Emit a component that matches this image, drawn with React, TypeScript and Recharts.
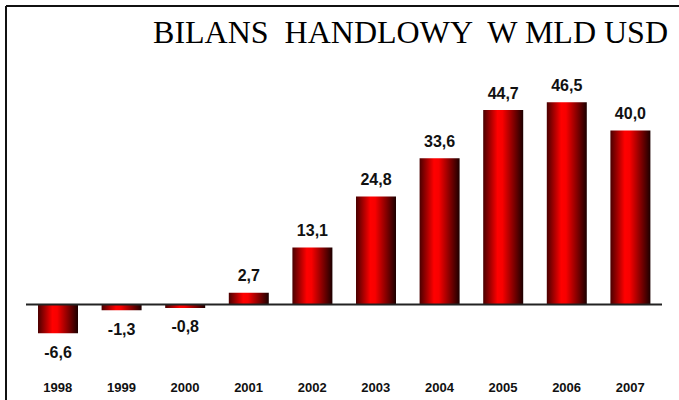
import React from "react";
import { BarChart, Bar, XAxis, YAxis, ReferenceLine, LabelList } from "recharts";

const years = ["1998", "1999", "2000", "2001", "2002", "2003", "2004", "2005", "2006", "2007"];
const balance = [-6.6, -1.3, -0.8, 2.7, 13.1, 24.8, 33.6, 44.7, 46.5, 40.0];
const title = "BILANS  HANDLOWY  W MLD USD";

const data = years.map((y, i) => ({ year: y, value: balance[i] }));

const fmt = (v: number) => v.toFixed(1).replace(".", ",");

const ValueLabel = (props: any) => {
  const { x, y, width, height, value } = props;
  const top = Math.min(y, y + height);
  const bottom = Math.max(y, y + height);
  const cx = x + width / 2;
  const ty = value < 0 ? bottom + 19 : top - 17;
  return (
    <text
      x={cx}
      y={ty}
      textAnchor="middle"
      dominantBaseline="central"
      fontFamily="'Liberation Sans', Arial, sans-serif"
      fontWeight="bold"
      fontSize={16}
      fill="#111"
    >
      {fmt(value)}
    </text>
  );
};

const YearTick = (props: any) => {
  const { x, y, payload } = props;
  return (
    <text
      x={x}
      y={y + 31}
      textAnchor="middle"
      dominantBaseline="central"
      fontFamily="'Liberation Sans', Arial, sans-serif"
      fontWeight="bold"
      fontSize={13}
      fill="#111"
    >
      {payload.value}
    </text>
  );
};

export default function App() {
  return (
    <div style={{ position: "absolute", left: 0, top: 0, width: 679, height: 400, background: "#fff" }}>
      <svg width={679} height={400} style={{ position: "absolute", left: 0, top: 0 }}>
        <line x1={6} y1={6} x2={679} y2={6} stroke="#111" strokeWidth={2} />
        <line x1={6} y1={6} x2={6} y2={400} stroke="#111" strokeWidth={2} />
        <text
          x={668}
          y={43}
          textAnchor="end"
          fontFamily="'Liberation Serif', 'Times New Roman', serif"
          fontSize={32}
          fill="#000"
          style={{ whiteSpace: "pre" }}
        >
          {title}
        </text>
      </svg>
      <div style={{ position: "absolute", left: 0, top: 0 }}>
        <BarChart
          width={679}
          height={400}
          data={data}
          margin={{ top: 87, right: 17, left: 26, bottom: 0 }}
        >
          <defs>
            <linearGradient id="barGrad" x1="0" y1="0" x2="1" y2="0">
              <stop offset="0%" stopColor="#4a0000" />
              <stop offset="36%" stopColor="#ff0000" />
              <stop offset="48%" stopColor="#f80000" />
              <stop offset="100%" stopColor="#1c0000" />
            </linearGradient>
          </defs>
          <XAxis
            dataKey="year"
            height={52}
            axisLine={false}
            tickLine={false}
            interval={0}
            tick={<YearTick />}
          />
          <YAxis hide domain={[-10, 50]} />
          <Bar dataKey="value" fill="url(#barGrad)" barSize={40} isAnimationActive={false}>
            <LabelList dataKey="value" content={<ValueLabel />} />
          </Bar>
          <ReferenceLine y={0} stroke="#222" strokeWidth={2} ifOverflow="extendDomain" />
        </BarChart>
      </div>
    </div>
  );
}
